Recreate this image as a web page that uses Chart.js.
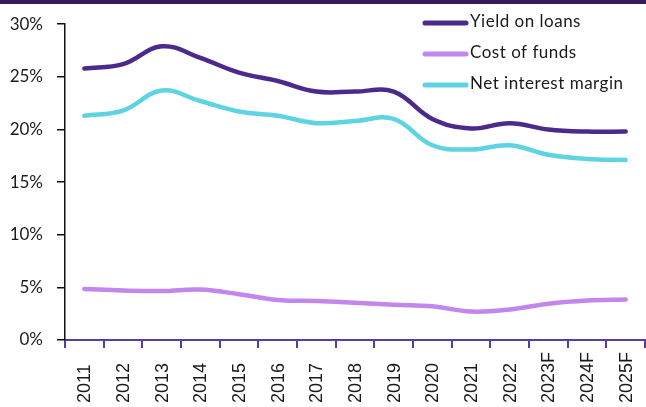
<!DOCTYPE html>
<html>
<head>
<meta charset="utf-8">
<script src="https://cdn.jsdelivr.net/npm/chart.js@4"></script>
<style>
  html, body { margin: 0; padding: 0; background: #fff; }
  #wrap { width: 646px; height: 407px; position: relative; }
</style>
</head>
<body>
<div id="wrap"><canvas id="myChart" width="646" height="407"></canvas></div>
<script>
// ---------------- data ----------------
var years = ["2011", "2012", "2013", "2014", "2015", "2016", "2017", "2018", "2019", "2020", "2021", "2022", "2023F", "2024F", "2025F"];
var yieldOnLoans = [25.8, 26.2, 27.9, 26.8, 25.4, 24.6, 23.6, 23.6, 23.6, 21.0, 20.1, 20.6, 20.0, 19.8, 19.8];
var costOfFunds = [4.85, 4.7, 4.65, 4.8, 4.35, 3.8, 3.7, 3.55, 3.35, 3.2, 2.7, 2.9, 3.45, 3.75, 3.85];
var netInterestMargin = [21.3, 21.8, 23.7, 22.7, 21.7, 21.3, 20.6, 20.8, 21.0, 18.5, 18.1, 18.5, 17.6, 17.2, 17.1];
var yTicks = [0, 5, 10, 15, 20, 25, 30];

var seriesNames = ["Yield on loans", "Cost of funds", "Net interest margin"];
var seriesColors = ["#4B2A8C", "#C386EC", "#5ED3E1"];

// top bar, legend and bottom-aligned year labels drawn by hand
var extras = {
  id: "extras",
  afterDraw: function (chart) {
    var ctx = chart.ctx;
    ctx.save();
    ctx.fillStyle = "#37195E";
    ctx.fillRect(0, 0, chart.width, 4);

    // legend
    ctx.font = "17px Lato";
    ctx.letterSpacing = "0.5px";
    ctx.textBaseline = "middle";
    ctx.lineCap = "round";
    for (var i = 0; i < chart.data.datasets.length; i++) {
      var ds = chart.data.datasets[i];
      var y = 23 + i * 31;
      ctx.strokeStyle = ds.borderColor;
      ctx.lineWidth = 5;
      ctx.beginPath();
      ctx.moveTo(425, y);
      ctx.lineTo(466, y);
      ctx.stroke();
      ctx.fillStyle = "#1a1a1a";
      ctx.fillText(ds.label, 470, y - 1);
    }
    ctx.letterSpacing = "0px";

    // x labels, rotated, aligned at the bottom
    var xs = chart.scales.x;
    ctx.font = "18px 'Liberation Sans'";
    ctx.fillStyle = "#1a1a1a";
    ctx.textAlign = "left";
    ctx.textBaseline = "middle";
    for (var j = 0; j < chart.data.labels.length; j++) {
      var px = xs.getPixelForTick(j);
      ctx.save();
      ctx.translate(px + 1, 403);
      ctx.rotate(-Math.PI / 2);
      ctx.fillText(chart.data.labels[j], 0, 0);
      ctx.restore();
    }
    ctx.restore();
  }
};

var allData = [yieldOnLoans, costOfFunds, netInterestMargin];
var datasets = [];
for (var i = 0; i < allData.length; i++) {
  datasets.push({
    label: seriesNames[i],
    data: allData[i],
    borderColor: seriesColors[i],
    backgroundColor: seriesColors[i],
    borderWidth: 4.5,
    pointRadius: 0,
    tension: 0.4,
    borderCapStyle: "round",
    fill: false
  });
}

var ctxL = document.getElementById("myChart").getContext("2d");
var myChart = new Chart(ctxL, {
  type: "line",
  data: { labels: years, datasets: datasets },
  plugins: [extras],
  options: {
    responsive: false,
    animation: false,
    layout: { padding: { top: 24, right: 1, left: 0, bottom: 0 } },
    plugins: { legend: { display: false }, tooltip: { enabled: false } },
    scales: {
      x: {
        offset: true,
        afterFit: function (s) { s.height = 67; },
        grid: { drawOnChartArea: false, drawTicks: true, tickLength: 8, color: "#5B3BA8", lineWidth: 2, offset: true },
        border: { color: "#5B3BA8", width: 2 },
        ticks: { display: false, minRotation: 90, maxRotation: 90 }
      },
      y: {
        min: 0, max: 30,
        afterFit: function (s) { s.width = 65; },
        afterBuildTicks: function (s) { s.ticks = yTicks.map(function (v) { return { value: v }; }); },
        grid: { drawOnChartArea: false, drawTicks: true, tickLength: 8, color: "#111", lineWidth: 1.5 },
        border: { color: "#111", width: 1.5 },
        ticks: {
          padding: 14,
          color: "#1a1a1a",
          font: { family: "Lato", size: 17 },
          callback: function (v) { return v + "%"; }
        }
      }
    }
  }
});
</script>
</body>
</html>
